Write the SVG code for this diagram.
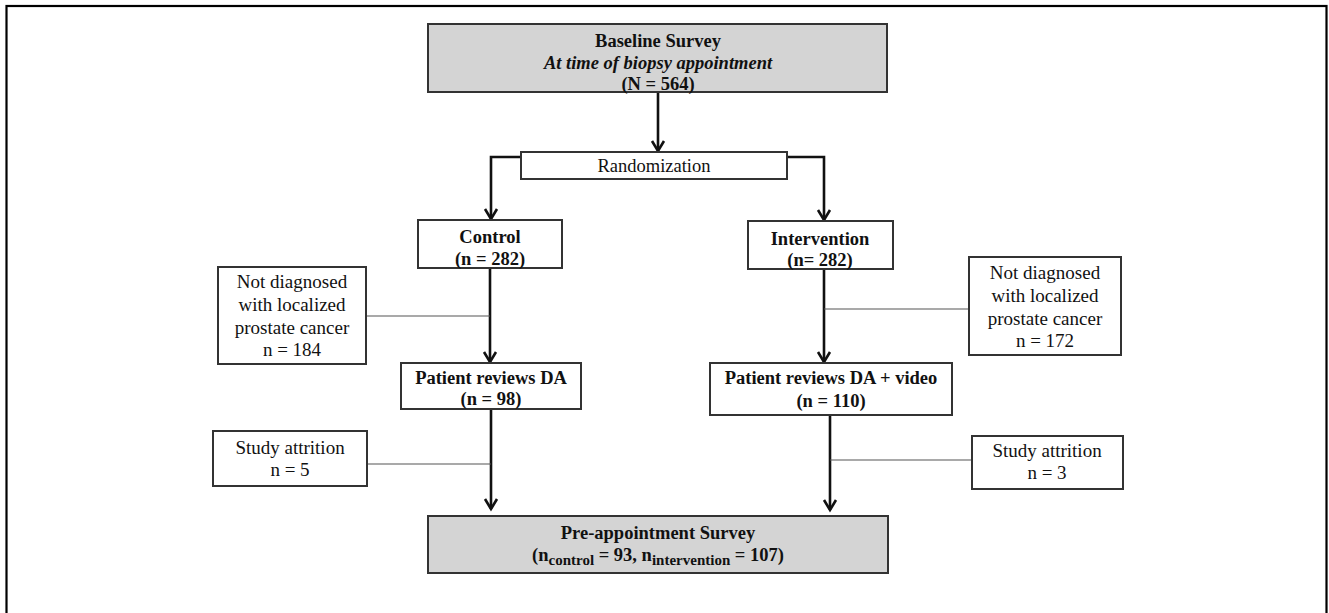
<svg xmlns="http://www.w3.org/2000/svg" width="1329" height="613" viewBox="0 0 1329 613">
<defs>
<marker id="ah" markerUnits="userSpaceOnUse" markerWidth="16" markerHeight="16" refX="13" refY="8" orient="auto" viewBox="0 0 16 16">
<path d="M3,2 L13,8 L3,14" fill="none" stroke="#111" stroke-width="2.6"/>
</marker>
<style>
.box{fill:#fff;stroke:#333;stroke-width:2}
.gbox{fill:#d4d4d4;stroke:#333;stroke-width:2}
.t{font-family:"Liberation Serif","Times New Roman",serif;font-size:18.5px;fill:#111;text-anchor:middle}
.s{font-size:19px}
.b{font-weight:bold}
.arrow{fill:none;stroke:#111;stroke-width:2.6}
.thin{fill:none;stroke:#555;stroke-width:1.2}
</style>
</defs>
<rect x="0" y="0" width="1329" height="613" fill="#fff"/>
<rect x="6.5" y="6" width="1320" height="640" fill="none" stroke="#000" stroke-width="2.2"/>

<g id="connectors">
<path class="arrow" d="M658,93 V151" marker-end="url(#ah)"/>
<path class="arrow" d="M521,157 H491 V219" marker-end="url(#ah)"/>
<path class="arrow" d="M787,157 H824 V220" marker-end="url(#ah)"/>
<path class="arrow" d="M490,268 V362" marker-end="url(#ah)"/>
<path class="arrow" d="M824,269 V362" marker-end="url(#ah)"/>
<path class="thin" d="M366,316 H490"/>
<path class="thin" d="M824,309 H969"/>
<path class="arrow" d="M491,409 V509" marker-end="url(#ah)"/>
<path class="arrow" d="M830,415 V510" marker-end="url(#ah)"/>
<path class="thin" d="M367,464 H491"/>
<path class="thin" d="M830,460 H972"/>
</g>

<g id="baseline">
<rect class="gbox" x="428" y="24" width="459" height="68"/>
<text class="t b" x="658" y="47">Baseline Survey</text>
<text class="t b" x="658" y="69" font-style="italic">At time of biopsy appointment</text>
<text class="t b" x="658" y="90">(N = 564)</text>
</g>

<g id="randomization">
<rect class="box" x="521" y="152" width="266" height="27"/>
<text class="t" x="654" y="172" font-size="17.5">Randomization</text>
</g>

<g id="control">
<rect class="box" x="418" y="220" width="144" height="48"/>
<text class="t b" x="490" y="243">Control</text>
<text class="t b" x="490" y="265">(n = 282)</text>
</g>

<g id="intervention">
<rect class="box" x="748" y="221" width="145" height="48"/>
<text class="t b" x="820" y="245">Intervention</text>
<text class="t b" x="820" y="266">(n= 282)</text>
</g>

<g id="excluded-left">
<rect class="box" x="218" y="267" width="148" height="97"/>
<text class="t s" x="292" y="288">Not diagnosed</text>
<text class="t s" x="292" y="311">with localized</text>
<text class="t s" x="292" y="334">prostate cancer</text>
<text class="t s" x="292" y="356">n = 184</text>
</g>

<g id="excluded-right">
<rect class="box" x="969" y="257" width="152" height="98"/>
<text class="t s" x="1045" y="279">Not diagnosed</text>
<text class="t s" x="1045" y="302">with localized</text>
<text class="t s" x="1045" y="325">prostate cancer</text>
<text class="t s" x="1045" y="347">n = 172</text>
</g>

<g id="reviews-da">
<rect class="box" x="401" y="363" width="180" height="46"/>
<text class="t b" x="491" y="384">Patient reviews DA</text>
<text class="t b" x="491" y="405">(n = 98)</text>
</g>

<g id="reviews-da-video">
<rect class="box" x="710" y="363" width="242" height="52"/>
<text class="t b" x="831" y="384">Patient reviews DA + video</text>
<text class="t b" x="831" y="407">(n = 110)</text>
</g>

<g id="attrition-left">
<rect class="box" x="213" y="431" width="154" height="55"/>
<text class="t s" x="290" y="454">Study attrition</text>
<text class="t s" x="290" y="476">n = 5</text>
</g>

<g id="attrition-right">
<rect class="box" x="972" y="436" width="151" height="53"/>
<text class="t s" x="1047" y="457">Study attrition</text>
<text class="t s" x="1047" y="479">n = 3</text>
</g>

<g id="pre-appointment">
<rect class="gbox" x="428" y="516" width="460" height="57"/>
<text class="t b" x="658" y="539">Pre-appointment Survey</text>
<text class="t b" x="658" y="561">(n<tspan font-size="15" dy="4">control</tspan><tspan dy="-4"> = 93, n</tspan><tspan font-size="15" dy="4">intervention</tspan><tspan dy="-4"> = 107)</tspan></text>
</g>
</svg>
